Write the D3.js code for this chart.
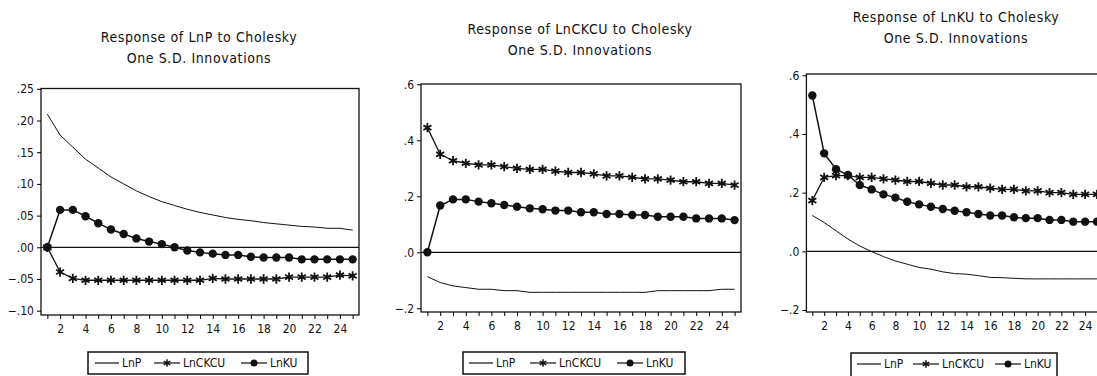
<!DOCTYPE html>
<html>
<head>
<meta charset="utf-8">
<title>Impulse responses</title>
<script src="https://d3js.org/d3.v7.min.js"></script>
<style>
  body { margin: 0; background: #fff; }
  svg text { font-family: "Liberation Sans Narrow", "Arial Narrow", "DejaVu Sans Condensed", sans-serif; fill: #111; }
</style>
</head>
<body>
<svg id="chart" width="1097" height="376"></svg>
<script>
// ---- data ----
var periods = d3.range(1, 26);
var seriesNames = ["LnP", "LnCKCU", "LnKU"];

// Response of LnP
var p1LnP = [0.210, 0.177, 0.158, 0.139, 0.125, 0.111, 0.100, 0.089, 0.080, 0.072, 0.066, 0.060, 0.055,
             0.051, 0.047, 0.044, 0.042, 0.039, 0.037, 0.035, 0.033, 0.032, 0.030, 0.030, 0.027];
var p1LnCKCU = [0.000, -0.039, -0.049, -0.052, -0.052, -0.052, -0.052, -0.052, -0.052, -0.052, -0.052, -0.052, -0.052,
                -0.049, -0.050, -0.050, -0.050, -0.050, -0.050, -0.047, -0.047, -0.047, -0.047, -0.044, -0.045];
var p1LnKU = [0.000, 0.059, 0.059, 0.049, 0.038, 0.028, 0.021, 0.014, 0.009, 0.005, 0.000, -0.005, -0.008,
              -0.010, -0.012, -0.012, -0.015, -0.016, -0.016, -0.016, -0.019, -0.019, -0.019, -0.019, -0.019];

// Response of LnCKCU
var p2LnP = [-0.087, -0.108, -0.120, -0.126, -0.132, -0.132, -0.137, -0.137, -0.143, -0.143, -0.143, -0.143, -0.143,
             -0.143, -0.143, -0.143, -0.143, -0.143, -0.137, -0.137, -0.137, -0.137, -0.137, -0.132, -0.132];
var p2LnCKCU = [0.445, 0.350, 0.327, 0.318, 0.312, 0.312, 0.306, 0.300, 0.296, 0.296, 0.290, 0.285, 0.285,
                0.280, 0.273, 0.273, 0.268, 0.262, 0.262, 0.258, 0.252, 0.252, 0.246, 0.246, 0.240];
var p2LnKU = [0.000, 0.167, 0.189, 0.189, 0.181, 0.175, 0.169, 0.163, 0.157, 0.154, 0.149, 0.149, 0.143,
              0.143, 0.137, 0.137, 0.133, 0.133, 0.127, 0.127, 0.127, 0.121, 0.121, 0.121, 0.115];

// Response of LnKU
var p3LnP = [0.122, 0.098, 0.070, 0.042, 0.018, -0.001, -0.018, -0.033, -0.044, -0.055, -0.061, -0.070, -0.076,
             -0.078, -0.083, -0.089, -0.090, -0.092, -0.094, -0.094, -0.094, -0.094, -0.094, -0.094, -0.094];
var p3LnCKCU = [0.173, 0.252, 0.258, 0.258, 0.252, 0.252, 0.247, 0.243, 0.238, 0.238, 0.232, 0.226, 0.226,
                0.220, 0.220, 0.215, 0.211, 0.211, 0.206, 0.206, 0.200, 0.200, 0.194, 0.194, 0.194];
var p3LnKU = [0.531, 0.334, 0.280, 0.260, 0.226, 0.211, 0.194, 0.183, 0.169, 0.160, 0.152, 0.144, 0.138,
              0.133, 0.127, 0.122, 0.122, 0.116, 0.113, 0.113, 0.107, 0.107, 0.101, 0.101, 0.101];

var ticks1 = [-0.10, -0.05, 0.00, 0.05, 0.10, 0.15, 0.20, 0.25];
var ticks23 = [-0.2, 0.0, 0.2, 0.4, 0.6];
var xLabelTicks = d3.range(2, 25, 2);

// ---- layout per panel ----
var panels = [
  { title: ["Response of LnP to Cholesky", "One S.D. Innovations"], titleX: 199, titleY: 42,
    left: 41, right: 359, top: 88.5, bottom: 315, zeroY: 247.3, topVal: 0.25, topY: 88.8,
    ticks: ticks1, fmt: function(v){ return v === 0 ? ".00" : d3.format(".2f")(v).replace("0.", "."); },
    series: [p1LnP, p1LnCKCU, p1LnKU],
    legend: { x: 88, y: 352, w: 220, h: 22, items: [95, 154, 241] } },
  { title: ["Response of LnCKCU to Cholesky", "One S.D. Innovations"], titleX: 580, titleY: 34,
    left: 421, right: 741, top: 84, bottom: 312, zeroY: 252.3, topVal: 0.6, topY: 84.3,
    ticks: ticks23, fmt: function(v){ return v === 0 ? ".0" : d3.format(".1f")(v).replace("0.", "."); },
    series: [p2LnP, p2LnCKCU, p2LnKU],
    legend: { x: 463, y: 352, w: 222, h: 22, items: [469, 530, 617] } },
  { title: ["Response of LnKU to Cholesky", "One S.D. Innovations"], titleX: 956, titleY: 22,
    left: 806.4, right: 1102.9, top: 74, bottom: 312, zeroY: 251.3, topVal: 0.6, topY: 75.3,
    ticks: ticks23, fmt: function(v){ return v === 0 ? ".0" : d3.format(".1f")(v).replace("0.", "."); },
    series: [p3LnP, p3LnCKCU, p3LnKU],
    legend: { x: 851, y: 353, w: 206, h: 26, items: [857, 913, 995] } }
];

var svg = d3.select("#chart");
var star = d3.symbol().type(d3.symbolAsterisk).size(60);

panels.forEach(function(p) {
  var g = svg.append("g");
  var x = d3.scaleLinear().domain([0.5, 25.5]).range([p.left, p.right]);
  var y = d3.scaleLinear().domain([0, p.topVal]).range([p.zeroY, p.topY]);

  // title
  g.selectAll("text.title").data(p.title).enter().append("text")
    .attr("class", "title")
    .attr("x", p.titleX).attr("y", function(d, i){ return p.titleY + i * 21; })
    .attr("text-anchor", "middle")
    .style("font-size", "14px")
    .style("letter-spacing", "0.6px")
    .text(function(d){ return d; });

  // frame
  g.append("rect")
    .attr("x", p.left).attr("y", p.top)
    .attr("width", p.right - p.left).attr("height", p.bottom - p.top)
    .attr("fill", "none").attr("stroke", "#111").attr("stroke-width", 1.3);

  // y axis
  var yAxis = d3.axisLeft(y).tickValues(p.ticks).tickFormat(p.fmt).tickSize(4).tickPadding(3);
  var ya = g.append("g").attr("transform", "translate(" + p.left + ",0)").call(yAxis);
  ya.select(".domain").remove();
  ya.selectAll("text").style("font-size", "12px");

  // x axis
  var xAxis = d3.axisBottom(x).tickValues(periods)
    .tickFormat(function(d){ return xLabelTicks.indexOf(d) >= 0 ? d : ""; })
    .tickSize(4).tickPadding(5);
  var xa = g.append("g").attr("transform", "translate(0," + p.bottom + ")").call(xAxis);
  xa.select(".domain").remove();
  xa.selectAll("text").style("font-size", "12px");

  // zero line
  g.append("line")
    .attr("x1", p.left).attr("x2", p.right)
    .attr("y1", y(0)).attr("y2", y(0))
    .attr("stroke", "#111").attr("stroke-width", 1.2);

  var line = d3.line().x(function(d, i){ return x(periods[i]); }).y(function(d){ return y(d); });

  // LnP: plain thin line
  g.append("path").datum(p.series[0]).attr("d", line)
    .attr("fill", "none").attr("stroke", "#111").attr("stroke-width", 1);

  // LnCKCU: line with asterisks
  g.append("path").datum(p.series[1]).attr("d", line)
    .attr("fill", "none").attr("stroke", "#111").attr("stroke-width", 1.3);
  g.selectAll("path.star").data(p.series[1]).enter().append("path")
    .attr("class", "star")
    .attr("transform", function(d, i){ return "translate(" + x(periods[i]) + "," + y(d) + ")"; })
    .attr("d", star).attr("fill", "none").attr("stroke", "#111").attr("stroke-width", 1.8);

  // LnKU: line with dots
  g.append("path").datum(p.series[2]).attr("d", line)
    .attr("fill", "none").attr("stroke", "#111").attr("stroke-width", 1.5);
  g.selectAll("circle.dot").data(p.series[2]).enter().append("circle")
    .attr("class", "dot")
    .attr("cx", function(d, i){ return x(periods[i]); })
    .attr("cy", function(d){ return y(d); })
    .attr("r", 4.2).attr("fill", "#111");

  // legend
  var L = p.legend;
  var lg = g.append("g");
  lg.append("rect").attr("x", L.x).attr("y", L.y).attr("width", L.w).attr("height", L.h)
    .attr("fill", "#fff").attr("stroke", "#111").attr("stroke-width", 1.5);
  var cy = L.y + 11;
  seriesNames.forEach(function(name, k) {
    var x0 = L.items[k], len = (k === 0 ? 24 : 26);
    lg.append("line").attr("x1", x0).attr("x2", x0 + len).attr("y1", cy).attr("y2", cy)
      .attr("stroke", "#111").attr("stroke-width", 1.2);
    if (k === 1) {
      lg.append("path").attr("transform", "translate(" + (x0 + len / 2) + "," + cy + ")")
        .attr("d", d3.symbol().type(d3.symbolAsterisk).size(40))
        .attr("fill", "none").attr("stroke", "#111").attr("stroke-width", 1.5);
    }
    if (k === 2) {
      lg.append("circle").attr("cx", x0 + len / 2).attr("cy", cy).attr("r", 3.5).attr("fill", "#111");
    }
    lg.append("text").attr("x", x0 + len + 3).attr("y", cy).attr("dy", "0.35em")
      .style("font-size", "12px").text(name);
  });
});
</script>
</body>
</html>
